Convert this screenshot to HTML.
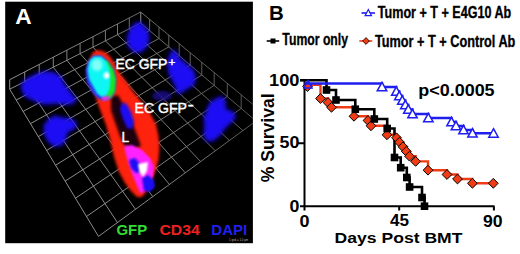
<!DOCTYPE html>
<html><head><meta charset="utf-8">
<style>
html,body{margin:0;padding:0;background:#fff;width:520px;height:254px;overflow:hidden}
svg{display:block}
text{font-family:"Liberation Sans",sans-serif}
</style></head><body>
<svg width="520" height="254" viewBox="0 0 520 254">
<defs>
<clipPath id="pc"><rect x="5.2" y="1.7" width="247.7" height="241.5"/></clipPath>
<filter id="b3" x="-50%" y="-50%" width="200%" height="200%"><feGaussianBlur stdDeviation="3"/></filter>
<filter id="b2" x="-50%" y="-50%" width="200%" height="200%"><feGaussianBlur stdDeviation="1.8"/></filter>
<filter id="bb" x="-50%" y="-50%" width="200%" height="200%"><feGaussianBlur stdDeviation="2.3"/></filter>
<filter id="b1" x="-50%" y="-50%" width="200%" height="200%"><feGaussianBlur stdDeviation="1.2"/></filter>
<linearGradient id="gg" gradientUnits="userSpaceOnUse" x1="40" y1="180" x2="250" y2="60"><stop offset="0" stop-color="#a0a0a0"/><stop offset="0.55" stop-color="#888884"/><stop offset="1" stop-color="#50504c"/></linearGradient>
</defs>
<rect x="5.2" y="1.7" width="247.7" height="241.5" fill="#000"/>
<g clip-path="url(#pc)">
<path d="M140.7 23.0L9.7 89.2M140.7 23.0L140.7 12.0M149.6 30.6L16.2 100.0M149.6 30.6L149.6 19.3M159.0 38.5L23.1 111.4M159.0 38.5L159.0 26.9M168.8 46.9L30.5 123.6M168.8 46.9L168.8 35.0M179.2 55.7L38.3 136.6M179.2 55.7L179.2 43.5M190.2 65.1L46.6 150.4M190.2 65.1L190.2 52.6M201.8 75.0L55.6 165.2M201.8 75.0L201.8 62.2M214.2 85.4L65.1 181.1M214.2 85.4L214.2 72.3M227.3 96.6L75.4 198.2M227.3 96.6L227.3 83.2M241.2 108.4L86.5 216.5M241.2 108.4L241.2 94.7M256.0 121.0L98.5 236.4M256.0 121.0L256.0 107.0M140.7 23.0L256.0 121.0M140.7 23.0L140.7 12.0M129.3 28.8L242.9 130.6M129.3 28.8L129.3 17.9M117.5 34.7L229.4 140.5M117.5 34.7L117.5 24.0M105.4 40.8L215.3 150.8M105.4 40.8L105.4 30.3M93.0 47.1L200.6 161.6M93.0 47.1L93.0 36.7M80.1 53.6L185.3 172.8M80.1 53.6L80.1 43.4M66.9 60.3L169.4 184.4M66.9 60.3L66.9 50.2M53.3 67.2L152.8 196.6M53.3 67.2L53.3 57.2M39.2 74.3L135.5 209.3M39.2 74.3L39.2 64.5M24.7 81.6L117.4 222.5M24.7 81.6L24.7 72.0M9.7 89.2L98.5 236.4M9.7 89.2L9.7 79.7M140.7 12.0L256.0 107.0M140.7 12.0L9.7 79.7" stroke="url(#gg)" stroke-width="0.9" fill="none"/>
<!-- blue blobs -->
<g fill="#1a0cf4" filter="url(#bb)">
<path d="M20.9 83.9L26.3 78.5L35.3 74L43.5 71.2L53.4 72.1L61.6 76.7L64.3 83.9L71.5 93L77 100.2L71.5 104.7L55.2 103.8L44.4 104.7L33.5 101.1L24.5 96.6L20.9 89.3Z"/>
<path d="M43.2 125.9L47.9 119.3L54.5 115.5L63 117.4L71.5 118.4L77.2 123.1L75.3 128.8L67.7 132.5L65.8 140L62 145.7L54.5 146.7L48.9 142.9L44.2 135.4Z"/>
<path d="M138.5 21.2L144 24.9L148.5 32.1L149.4 39.4L146.7 47.5L140.4 53L133.1 52L127.7 45.7L126.8 37.6L129.5 29.4L134 24Z"/>
<path d="M171.2 50.8L175.6 49.7L178.8 57.3L186.4 63.8L194 70.3L196.1 79L194 85.5L187.5 88.7L182 93L176.6 94.1L175.6 87.6L172.3 81.1L168 72.5L166.9 61.6Z"/>
<path d="M213.9 99.4L221 95.9L225.7 99.4L225.7 108.9L232.7 111.2L236.3 115.9L232.7 121.8L225.7 127.7L221 134.8L213.9 140.7L206.8 141.9L203.3 134.8L204.4 125.4L203.3 118.3L206.8 108.9L209.2 103Z"/>
</g>
<ellipse cx="162" cy="96" rx="10" ry="5" fill="#1a0c90" opacity="0.8" filter="url(#b2)"/>
<!-- red vessel -->
<path d="M93 52L98 50L104 51.5L108.5 55L114 62L119 72L125 80L132 90L140 100L149 111.6L156 124L158.5 136L159.5 148L158.5 160L155 172L150 184L146 192L142 197L137 197L131 191L125 183L119 172L114 157L110.5 141L106 125L99 107L95 95L91 86L87.5 75L88 64L91 56Z" fill="#ff2008" filter="url(#b2)"/>
<path d="M111 97L118 95L124 106L131 120L137 135L141 146L131 150L125 146L120 136L115 122L111 110Z" fill="#1a0008" filter="url(#b2)"/>
<path d="M121 104L126 103L131 112L134 122L132 129L127 128L123 119L120 110Z" fill="#1a0cf4" filter="url(#b2)"/>
<!-- cyan cell -->
<path d="M88.5 60.5L93.5 55.5L101.7 55.5L108 61.5L114 69.5L116 79.6L115 91.4L111 98.5L103.7 100.5L96.5 97.5L91.5 91.5L86.5 81.5L85.5 69.7Z" fill="#2a30f0" filter="url(#b1)"/>
<path d="M99 60L107.6 61L113.5 69.7L116 79.6L115 91.4L110.5 98.3L104 99.5L106 90L107 75Z" fill="#14e628" filter="url(#b1)"/>
<path d="M102 95L110 96L108 100.5L102 101Z" fill="#e030e0" filter="url(#b1)"/>
<path d="M89.5 60.5L94 56.5L101.5 56.5L106.5 61.5L109.5 69.5L110.5 79.5L109.5 89.5L106.5 95.5L101.5 97L97 93.5L93.5 87L89 79L87.5 69.5Z" fill="#08f6f4" filter="url(#b1)"/>
<ellipse cx="97" cy="65" rx="5.5" ry="6" fill="#80fff6" filter="url(#b2)"/>
<ellipse cx="106.5" cy="75.5" rx="2.8" ry="3.2" fill="#fff" filter="url(#b1)"/>
<!-- magenta -->
<path d="M124 146L132 145L142 150L150 158L154 166L153 176L149 185L144 192L140 193L137 186L133 176L129 165L126 155Z" fill="#ff20ff" filter="url(#b1)"/>
<path d="M129 160L135 158L140 164L141 172L136 173L131 168Z" fill="#1a0cf4" filter="url(#b1)"/>
<path d="M142 178L148 175L154 180L155 187L150 192L144 191Z" fill="#1a0cf4" filter="url(#b1)"/>
<path d="M138 164L148 162L147 171L143 177L139.5 172Z" fill="#fff" filter="url(#b1)"/>
<!-- labels -->
<text transform="translate(15.28 24.06) scale(0.998 1)" font-size="22.78" font-weight="bold" fill="#fff">A</text>
<text transform="translate(115.53 69.32) scale(0.923 1)" font-size="15.06" font-weight="normal" fill="#fff" stroke="#fff" stroke-width="0.45">EC GFP</text>
<text transform="translate(168.56 65.97) scale(1.053 1)" font-size="11.12" font-weight="normal" fill="#fff" stroke="#fff" stroke-width="0.45">+</text>
<text transform="translate(134.59 112.59) scale(0.910 1)" font-size="15.46" font-weight="normal" fill="#fff" stroke="#fff" stroke-width="0.45">EC GFP</text>
<text transform="translate(187.69 110.00) scale(1.280 1)" font-size="14.00" font-weight="normal" fill="#fff" stroke="#fff" stroke-width="0.45">-</text>
<text transform="translate(121.47 141.66) scale(0.910 1)" font-size="15.00" font-weight="normal" fill="#fff" stroke="#fff" stroke-width="0.45">L</text>
<text transform="translate(116.38 235.40) scale(0.984 1)" font-size="15.20" font-weight="bold" fill="#33dd33">GFP</text>
<text transform="translate(159.42 235.40) scale(1.036 1)" font-size="15.20" font-weight="bold" fill="#ee2020">CD34</text>
<text transform="translate(211.37 235.30) scale(0.987 1)" font-size="15.20" font-weight="bold" fill="#2020ee">DAPI</text>
<text x="229" y="241.2" font-size="3.2" fill="#b8b8b8" transform="translate(229 0) scale(0.9 1) translate(-229 0)">1 grid = 1.0 &#181;m</text>
</g>
<!-- ========== panel B ========== -->
<!-- axes -->
<g stroke="#000" stroke-width="2" fill="none">
<path d="M304.5 80.3V210.5"/>
<path d="M300 206.2H494.5"/>
<path d="M300 80.3H304.5M298 143.3H304.5M399.2 206.2V210.5M493.9 206.2V210.5"/>
</g>
<text transform="translate(269.01 19.71) scale(0.987 1)" font-size="20.74" font-weight="bold" fill="#000">B</text>
<text transform="translate(377.81 17.70) scale(0.749 1)" font-size="16.80" font-weight="bold" fill="#000" stroke="#000" stroke-width="0.35">Tumor + T + E4G10 Ab</text>
<text transform="translate(282.36 45.40) scale(0.728 1)" font-size="16.80" font-weight="bold" fill="#000" stroke="#000" stroke-width="0.35">Tumor only</text>
<text transform="translate(375.00 46.50) scale(0.757 1)" font-size="16.80" font-weight="bold" fill="#000" stroke="#000" stroke-width="0.35">Tumor + T + Control Ab</text>
<text transform="translate(268.98 85.50) scale(1.071 1)" font-size="17.10" font-weight="bold" fill="#000">100</text>
<text transform="translate(279.60 148.20) scale(1.045 1)" font-size="17.10" font-weight="bold" fill="#000">50</text>
<text transform="translate(289.48 212.10) scale(1.042 1)" font-size="17.10" font-weight="bold" fill="#000">0</text>
<text transform="translate(299.47 226.60) scale(1.051 1)" font-size="17.10" font-weight="bold" fill="#000">0</text>
<text transform="translate(390.00 226.40) scale(1.002 1)" font-size="17.10" font-weight="bold" fill="#000">45</text>
<text transform="translate(483.07 226.50) scale(1.030 1)" font-size="17.10" font-weight="bold" fill="#000">90</text>
<text transform="translate(334.57 243.47) scale(1.144 1)" font-size="15.36" font-weight="bold" fill="#000">Days Post BMT</text>
<text transform="translate(274.34 182.22) rotate(-90) scale(0.970 1)" font-size="18.10" font-weight="bold" fill="#000">% Survival</text>
<text transform="translate(418.23 96.27) scale(1.085 1)" font-size="16.56" font-weight="bold" fill="#000">p&lt;0.0005</text>
<!-- curves -->
<path d="M304.5 84.8H320.5V98.5H328.0V102.5H331.5V107.3H354.0V116.3H368.0V120.5H371.0V125.8H387.0V134.8H396.5V137.8H399.5V142.2H403.0V146.8H406.3V151.4H409.5V156.2H415.6V161.4H428.0V170.2H447.0V174.5H457.5V179.0H472.4V183.3H493.3" stroke="#f03c14" stroke-width="2.4" fill="none"/>
<path d="M300.0 80.3H326.5V90.0H336.0V100.0H355.3V109.2H374.3V119.0H387.2V128.5H394.5V157.5H400.7V167.7H406.8V177.5H409.6V187.0H422.0V197.5H424.5V206.2" stroke="#000" stroke-width="2.6" fill="none"/>
<g fill="#f03c14" stroke="#000" stroke-width="1"><path d="M307.5 81.6L312.4 86.5L307.5 91.4L302.6 86.5Z"/><path d="M320.5 93.6L325.4 98.5L320.5 103.4L315.6 98.5Z"/><path d="M328.0 97.6L332.9 102.5L328.0 107.4L323.1 102.5Z"/><path d="M331.5 102.4L336.4 107.3L331.5 112.2L326.6 107.3Z"/><path d="M354.0 111.4L358.9 116.3L354.0 121.2L349.1 116.3Z"/><path d="M368.0 115.6L372.9 120.5L368.0 125.4L363.1 120.5Z"/><path d="M371.0 120.9L375.9 125.8L371.0 130.7L366.1 125.8Z"/><path d="M387.0 129.9L391.9 134.8L387.0 139.7L382.1 134.8Z"/><path d="M396.5 132.9L401.4 137.8L396.5 142.7L391.6 137.8Z"/><path d="M399.5 137.3L404.4 142.2L399.5 147.1L394.6 142.2Z"/><path d="M403.0 141.9L407.9 146.8L403.0 151.7L398.1 146.8Z"/><path d="M406.3 146.5L411.2 151.4L406.3 156.3L401.4 151.4Z"/><path d="M409.5 151.3L414.4 156.2L409.5 161.1L404.6 156.2Z"/><path d="M415.6 156.5L420.5 161.4L415.6 166.3L410.7 161.4Z"/><path d="M428.0 165.3L432.9 170.2L428.0 175.1L423.1 170.2Z"/><path d="M447.0 169.6L451.9 174.5L447.0 179.4L442.1 174.5Z"/><path d="M457.5 174.1L462.4 179.0L457.5 183.9L452.6 179.0Z"/><path d="M472.4 178.4L477.3 183.3L472.4 188.2L467.5 183.3Z"/><path d="M493.3 178.4L498.2 183.3L493.3 188.2L488.4 183.3Z"/></g>
<g fill="#000"><rect x="322.7" y="86.2" width="7.6" height="7.6"/><rect x="332.2" y="96.2" width="7.6" height="7.6"/><rect x="351.5" y="105.4" width="7.6" height="7.6"/><rect x="370.5" y="115.2" width="7.6" height="7.6"/><rect x="383.4" y="124.7" width="7.6" height="7.6"/><rect x="390.7" y="153.7" width="7.6" height="7.6"/><rect x="396.9" y="163.9" width="7.6" height="7.6"/><rect x="403.0" y="173.7" width="7.6" height="7.6"/><rect x="405.8" y="183.2" width="7.6" height="7.6"/><rect x="418.2" y="193.7" width="7.6" height="7.6"/><rect x="420.7" y="202.4" width="7.6" height="7.6"/></g>
<path d="M304.5 83.5H382.0V87.0H396.3V91.5H399.3V96.0H402.3V100.5H405.3V105.0H408.3V109.5H412.5V114.0H428.3V118.0H451.5V122.0H456.0V126.0H463.5V130.0H472.5V133.3H493.3" stroke="#1e1ef0" stroke-width="2.4" fill="none"/>
<g fill="#fff" stroke="#1e1ef0" stroke-width="1.5"><path d="M308.0 80.4L312.0 87.9L304.0 87.9Z" fill="none"/><path d="M382.0 82.3L386.8 90.8L377.2 90.8Z"/><path d="M396.3 86.8L401.1 95.3L391.6 95.3Z"/><path d="M399.3 91.3L404.1 99.8L394.6 99.8Z"/><path d="M402.3 95.8L407.1 104.3L397.6 104.3Z"/><path d="M405.3 100.3L410.1 108.8L400.6 108.8Z"/><path d="M408.3 104.8L413.1 113.3L403.6 113.3Z"/><path d="M412.5 109.3L417.2 117.8L407.8 117.8Z"/><path d="M428.3 113.3L433.1 121.8L423.6 121.8Z"/><path d="M451.5 117.3L456.2 125.8L446.8 125.8Z"/><path d="M456.0 121.3L460.8 129.8L451.2 129.8Z"/><path d="M463.5 125.3L468.2 133.8L458.8 133.8Z"/><path d="M472.5 128.6L477.2 137.1L467.8 137.1Z"/><path d="M493.5 128.7L498.2 137.2L488.8 137.2Z"/></g>
<!-- legend -->
<path d="M361.5 13H375" stroke="#1e1ef0" stroke-width="1.6"/>
<path d="M368.3 9.5L371.5 15.7H365.1Z" fill="#fff" stroke="#1e1ef0" stroke-width="1.2"/>
<path d="M266.7 41H279.2" stroke="#000" stroke-width="1.6"/>
<rect x="270.5" y="38.5" width="5" height="5" fill="#000"/>
<path d="M359.3 41H372.3" stroke="#f03c14" stroke-width="1.6"/>
<path d="M366 37.6L369.4 41L366 44.4L362.6 41Z" fill="#f03c14" stroke="#000" stroke-width="0.8"/>
</svg>
</body></html>
